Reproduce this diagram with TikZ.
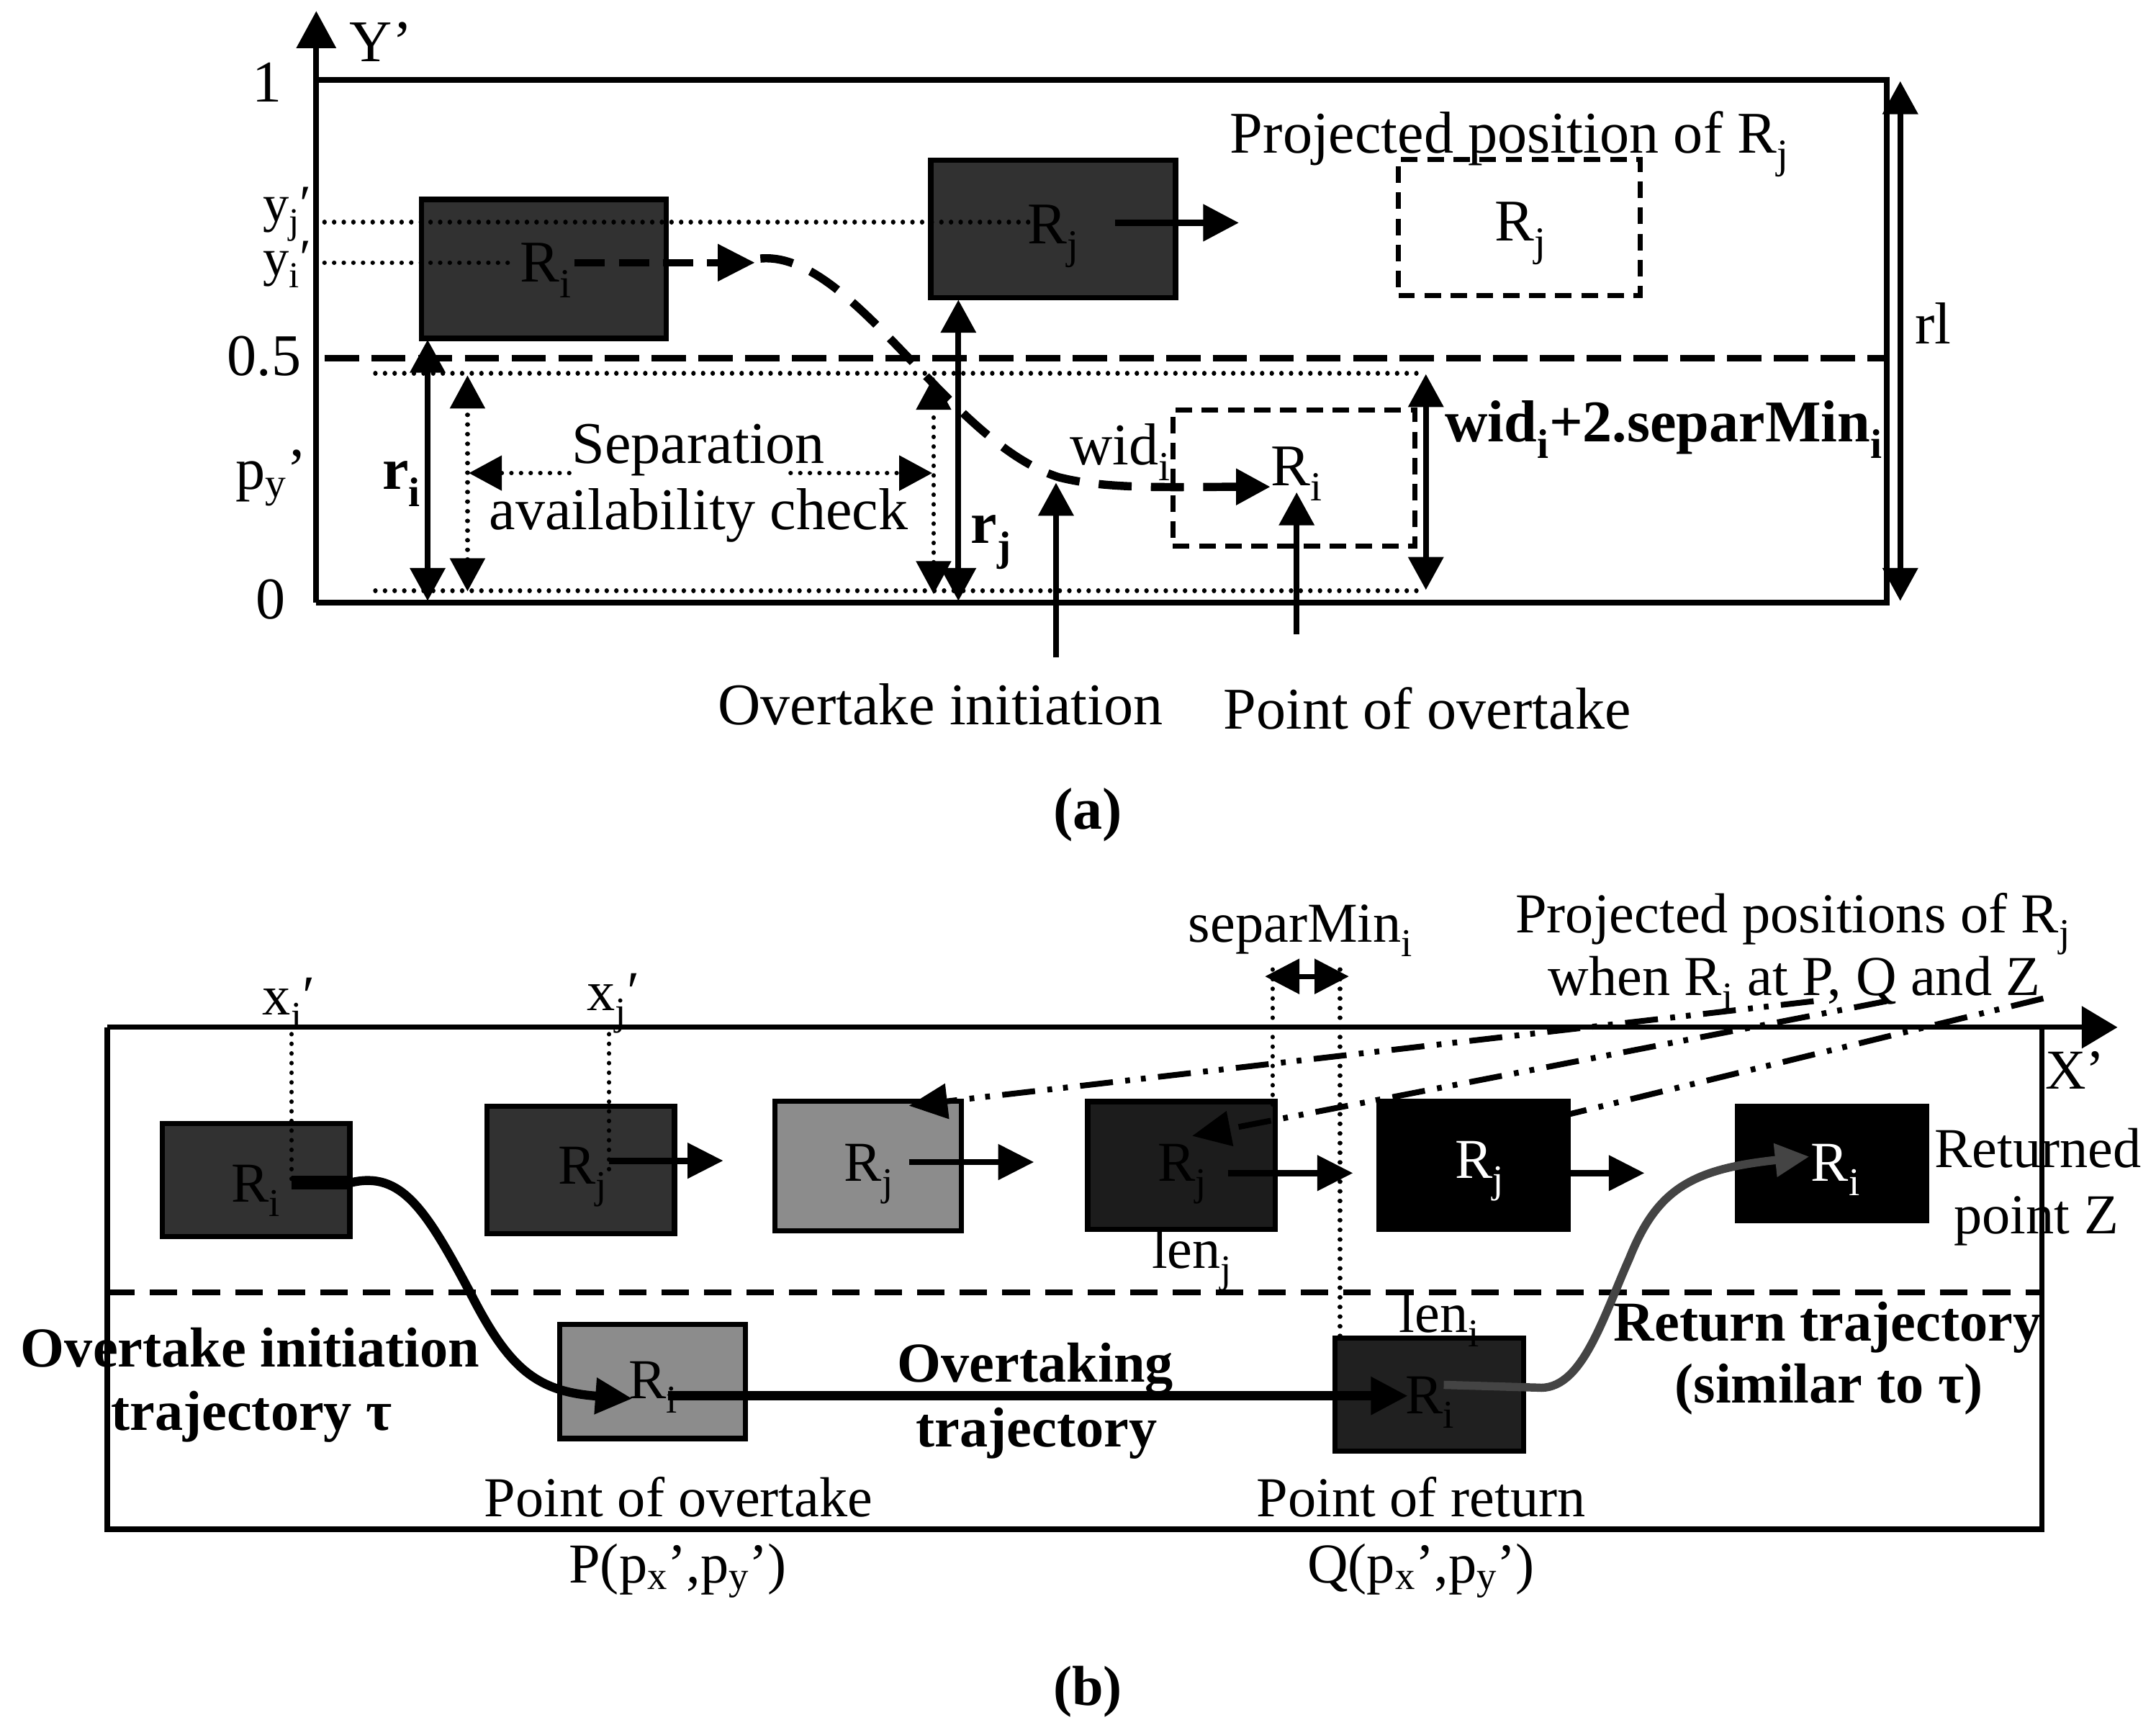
\documentclass[tikz,border=0pt]{standalone}
\usepackage{fontspec}
\setmainfont{Liberation Serif}
\usetikzlibrary{arrows.meta}
\definecolor{boxA}{HTML}{313131}
\definecolor{boxGray}{HTML}{8C8C8C}
\definecolor{boxD}{HTML}{1C1C1C}
\definecolor{boxQ}{HTML}{202020}
\definecolor{retGray}{HTML}{444444}
\newcommand\sbs[1]{\textsubscript{#1}}
\newcommand\fsA{\fontsize{43}{50}\selectfont}
\newcommand\fsY{\fontsize{38}{44}\selectfont}
\newcommand\fsB{\fontsize{41}{48}\selectfont}
\tikzset{
  txt/.style={inner sep=0pt, anchor=base},
  frameA/.style={line width=4.3pt, line join=miter},
  frameB/.style={line width=3.8pt, line join=miter},
  dotl/.style={line width=3.3pt, dash pattern=on 0.01pt off 7pt, line cap=round},
  dashA/.style={line width=4.4pt, dash pattern=on 25pt off 9pt},
  dashB/.style={line width=4.2pt, dash pattern=on 20pt off 11pt},
  darkbox/.style={draw, line width=4pt, fill=boxA, inner sep=0pt},
  dbox/.style={draw, line width=3.6pt, dash pattern=on 12pt off 7pt, inner sep=0pt},
  boxB/.style={draw, line width=3.8pt, inner sep=0pt},
  hdA/.tip={Triangle[width=25pt,length=24pt]},
  hdB/.tip={Triangle[width=25pt,length=26pt]},
  dblA/.style={line width=4.2pt, {hdA}-{hdA}},
  dotdbl/.style={dotl, {hdA}-{hdA}},
  upA/.style={line width=4.2pt, -{hdA}},
  arrB/.style={line width=4.6pt, -{hdB}},
  ddl/.style={line width=4.2pt, dash pattern=on 24pt off 9pt on 3.5pt off 8pt on 3.5pt off 9pt},
}
\begin{document}
\begin{tikzpicture}[x=1pt,y=-1pt]
\useasboundingbox (0,0) rectangle (1568,1260);
% ================= (a) =================
\begin{scope}[font=\fsA]
% boxes
\node[darkbox, minimum width=178pt, minimum height=101pt] (Ri) at (395.5,195.5) {};
\node[darkbox, minimum width=178pt, minimum height=100pt] (Rj) at (766,166.5) {};
\node[dbox, minimum width=176pt, minimum height=99pt] (RjP) at (1105,165.5) {};
\node[dbox, minimum width=176pt, minimum height=99pt] (RiP) at (941,347.5) {};
% frame and axis
\coordinate (ax0) at (230,438);
\coordinate (axT) at (230,8);
\coordinate (fa1) at (230,58);
\coordinate (fa2) at (1372,58);
\coordinate (fa3) at (1372,438);
\draw[frameA] (fa1) -- (fa2) -- (fa3) -- (ax0);
\draw[frameA, -{Triangle[width=28pt,length=27pt]}] (ax0) -- (axT);
% half line
\coordinate (h05a) at (236,260.5);
\coordinate (h05b) at (1372,260.5);
\draw[dashA] (h05a) -- (h05b);
% dotted guides
\coordinate (dyj1) at (236,161.5); \coordinate (dyj2) at (752,161.5);
\coordinate (dyi1) at (236,191); \coordinate (dyi2) at (376,191);
\coordinate (dt1) at (273,271.5); \coordinate (dt2) at (1036,271.5);
\coordinate (db1) at (273,429.5); \coordinate (db2) at (1036,429.5);
\draw[dotl] (dyj1) -- (dyj2);
\draw[dotl] (dyi1) -- (dyi2);
\draw[dotl] (dt1) -- (dt2);
\draw[dotl] (db1) -- (db2);
% axis labels
\node[txt] (lY) at (277,45) {Y’};
\node[txt] (l1) at (194,74) {1};
\node[txt, anchor=base west, font=\fsY] (lyj) at (191,161) {y\sbs{j}′};
\node[txt, anchor=base west, font=\fsY] (lyi) at (191,200) {y\sbs{i}′};
\node[txt] (l05) at (192,273) {0.5};
\node[txt] (lpy) at (197,356) {p\sbs{y}’};
\node[txt] (l0) at (197,450) {0};
% box labels
\node[txt] (RiL) at (397,205) {R\sbs{i}};
\node[txt] (RjL) at (766,177) {R\sbs{j}};
\node[txt] (RjPL) at (1106,175) {R\sbs{j}};
\node[txt] (RiPL) at (943,353) {R\sbs{i}};
% Ri motion and trajectory
\coordinate (riA) at (418,191);
\coordinate (riB) at (549,191);
\draw[line width=5pt, dash pattern=on 22pt off 10pt, -{Triangle[width=26pt,length=27pt]}] (riA) -- (riB);
\coordinate (cvS) at (553,188);
\coordinate (cvE) at (924,354);
\draw[line width=6pt, dash pattern=on 24pt off 14pt, -{Triangle[width=25pt,length=25pt]}]
  (cvS) .. controls (620,182) and (690,322) .. (770,347) .. controls (805,356) and (850,354) .. (cvE);
% Rj motion
\coordinate (rjA) at (811,162);
\coordinate (rjB) at (901,162);
\draw[line width=4.8pt, -{Triangle[width=26pt,length=26pt]}] (rjA) -- (rjB);
% r_i, r_j
\coordinate (ri1) at (311,437); \coordinate (ri2) at (311,247);
\draw[dblA] (ri1) -- (ri2);
\coordinate (rj1) at (697,437); \coordinate (rj2) at (697,218);
\draw[dblA] (rj1) -- (rj2);
\node[txt, font=\fsA\bfseries] (riT) at (292,356) {r\sbs{i}};
\node[txt, font=\fsA\bfseries] (rjT) at (721,395) {r\sbs{j}};
% separation check
\coordinate (sv1a) at (340,273); \coordinate (sv1b) at (340,430);
\coordinate (sv2a) at (679,274); \coordinate (sv2b) at (679,432);
\draw[dotdbl] (sv1b) -- (sv1a);
\draw[dotdbl] (sv2b) -- (sv2a);
\node[txt] (sep1) at (508,337) {Separation};
\node[txt] (sep2) at (508,385) {availability check};
\coordinate (sl1) at (414,344); \coordinate (sl2) at (341,344);
\coordinate (sr1) at (575,344); \coordinate (sr2) at (678,344);
\draw[dotl, -{hdA}] (sl1) -- (sl2);
\draw[dotl, -{hdA}] (sr1) -- (sr2);
% wid
\node[txt] (widT) at (815,338) {wid\sbs{i}};
\coordinate (w1) at (1037,272); \coordinate (w2) at (1037,429);
\draw[dblA] (w1) -- (w2);
\node[txt, font=\fsA\bfseries] (wid2) at (1210,321) {wid\sbs{i}+2.separMin\sbs{i}};
% rl
\coordinate (rl1) at (1382,59); \coordinate (rl2) at (1382,437);
\draw[dblA] (rl1) -- (rl2);
\node[txt] (rlT) at (1406,250) {rl};
% projected
\node[txt] (projA) at (1098,111) {Projected position of R\sbs{j}};
% pointers
\node[txt] (oiT) at (684,527) {Overtake initiation};
\node[txt] (poT) at (1038,530) {Point of overtake};
\coordinate (oi1) at (768,478); \coordinate (oi2) at (768,351);
\coordinate (po1) at (943,461); \coordinate (po2) at (943,358);
\draw[upA] (oi1) -- (oi2);
\draw[upA] (po1) -- (po2);
\node[txt, font=\fsA\bfseries] (capA) at (791,603) {(a)};
\end{scope}
% ================= (b) =================
\begin{scope}[font=\fsB]
\node[boxB, fill=boxA, minimum width=136.5pt, minimum height=82pt] (B1) at (186.25,858) {};
\node[boxB, fill=boxA, minimum width=136.5pt, minimum height=92.5pt] (B2) at (422.25,850.75) {};
\node[boxB, fill=boxGray, minimum width=135.4pt, minimum height=94.2pt] (B3) at (631.3,847.7) {};
\node[boxB, fill=boxD, minimum width=136.5pt, minimum height=93pt] (B4) at (859.25,847.5) {};
\node[boxB, fill=black, minimum width=137.6pt, minimum height=93pt] (B5) at (1071.8,847.5) {};
\node[boxB, fill=black, minimum width=137.3pt, minimum height=83pt] (B6) at (1332.35,845.85) {};
\node[boxB, fill=boxGray, minimum width=135pt, minimum height=83pt] (B7) at (474.5,1004.5) {};
\node[boxB, fill=boxQ, minimum width=137pt, minimum height=82pt] (B8) at (1039.5,1014) {};
% frame and axis
\coordinate (fb1) at (78,747);
\coordinate (fb2) at (1485,747);
\coordinate (fb3) at (1485,1112);
\coordinate (fb4) at (78,1112);
\coordinate (axX) at (1540,747);
\draw[frameB] (fb2) -- (fb3) -- (fb4) -- (fb1);
\draw[frameB, -{Triangle[width=30pt,length=26pt]}] (fb1) -- (axX);
\coordinate (hb1) at (78,939.5);
\coordinate (hb2) at (1485,939.5);
\draw[dashB] (hb1) -- (hb2);
% box labels
\node[txt] (B1L) at (186,874) {R\sbs{i}};
\node[txt] (B2L) at (424,861) {R\sbs{j}};
\node[txt] (B3L) at (632,859) {R\sbs{j}};
\node[txt, text=black] (B4L) at (860,859) {R\sbs{j}};
\node[txt, text=white] (B5L) at (1076,857) {R\sbs{j}};
\node[txt, text=white] (B6L) at (1335,859) {R\sbs{i}};
\node[txt] (B7L) at (475,1017) {R\sbs{i}};
\node[txt, text=black] (B8L) at (1040,1028) {R\sbs{i}};
% x labels and dotted
\node[txt] (xi) at (210,738) {x\sbs{i}′};
\node[txt] (xj) at (446,735) {x\sbs{j}′};
\coordinate (xd1a) at (212,752); \coordinate (xd1b) at (212,861);
\coordinate (xd2a) at (443,752); \coordinate (xd2b) at (443,851);
\draw[dotl] (xd1a) -- (xd1b);
\draw[dotl] (xd2a) -- (xd2b);
% separMin
\node[txt] (smT) at (946,685) {separMin\sbs{i}};
\coordinate (sm1) at (920,710); \coordinate (sm2) at (981,710);
\draw[line width=3.5pt, {Triangle[width=25pt,length=25pt]}-{Triangle[width=25pt,length=25pt]}] (sm1) -- (sm2);
\coordinate (smd1a) at (925.5,705); \coordinate (smd1b) at (925.5,805);
\coordinate (smd2a) at (974.5,705); \coordinate (smd2b) at (974.5,972);
\draw[dotl] (smd1a) -- (smd1b);
\draw[dotl] (smd2a) -- (smd2b);
% Rj motion arrows
\coordinate (a2s) at (443,844); \coordinate (a2e) at (526,844);
\coordinate (a3s) at (661,845); \coordinate (a3e) at (752,845);
\coordinate (a4s) at (893,853); \coordinate (a4e) at (984,853);
\coordinate (a5s) at (1141,853); \coordinate (a5e) at (1196,853);
\draw[arrB] (a2s) -- (a2e);
\draw[arrB] (a3s) -- (a3e);
\draw[arrB] (a4s) -- (a4e);
\draw[arrB] (a5s) -- (a5e);
% trajectories
\coordinate (tauS) at (212,860);
\coordinate (tauM) at (255,860);
\coordinate (tauE) at (460,1017);
\draw[line width=10pt] (tauS) -- (tauM);
\draw[line width=6.5pt, -{Triangle[width=25pt,length=27pt]}]
  (tauM) .. controls (292,851) and (310,880) .. (342,940) .. controls (370,995) and (390,1012) .. (tauE);
\coordinate (ovS) at (486,1015);
\coordinate (ovE) at (1024,1015);
\draw[line width=7pt, -{Triangle[width=26pt,length=27pt]}] (ovS) -- (ovE);
\coordinate (rtS) at (1050,1007);
\coordinate (rtM) at (1118,1009);
\coordinate (rtE) at (1316,841);
\draw[retGray, line width=6pt, -{Triangle[width=23pt,length=25pt]}]
  (rtS) -- (rtM) .. controls (1150,1012) and (1165,960) .. (1185,915) .. controls (1205,865) and (1230,850) .. (rtE);
% projected positions
\node[txt] (pp1) at (1304,678) {Projected positions of R\sbs{j}};
\node[txt] (pp2) at (1305,724) {when R\sbs{i} at P, Q and Z};
\coordinate (dd1s) at (1319,728); \coordinate (dd1e) at (661,804);
\coordinate (dd2s) at (1372,728); \coordinate (dd2e) at (867,826);
\coordinate (dd3s) at (1486,726); \coordinate (dd3e) at (1142,810);
\draw[ddl, -{Triangle[width=25pt,length=28pt]}] (dd1s) -- (dd1e);
\draw[ddl, -{Triangle[width=25pt,length=28pt]}] (dd2s) -- (dd2e);
\draw[ddl] (dd3s) -- (dd3e);
% other labels
\node[txt] (lenj) at (867,922) {len\sbs{j}};
\node[txt] (leni) at (1047,969) {len\sbs{i}};
\node[txt] (lX) at (1509,792) {X’};
\node[txt] (retZ1) at (1482,849) {Returned};
\node[txt] (retZ2) at (1481,897) {point Z};
\node[txt, font=\fsB\bfseries] (oit1) at (182,994) {Overtake initiation};
\node[txt, font=\fsB\bfseries] (oit2) at (183,1040) {trajectory τ};
\node[txt, font=\fsB\bfseries] (ovt1) at (753,1005) {Overtaking};
\node[txt, font=\fsB\bfseries] (ovt2) at (754,1052) {trajectory};
\node[txt, font=\fsB\bfseries] (rtt1) at (1329,975) {Return trajectory};
\node[txt, font=\fsB\bfseries] (rtt2) at (1330,1020) {(similar to τ)};
\node[txt] (pov1) at (493.5,1103) {Point of overtake};
\node[txt] (pov2) at (493,1151) {P(p\sbs{x}’,p\sbs{y}’)};
\node[txt] (prt1) at (1033.5,1103) {Point of return};
\node[txt] (prt2) at (1033.5,1151) {Q(p\sbs{x}’,p\sbs{y}’)};
\node[txt, font=\fsB\bfseries] (capB) at (791,1240) {(b)};
\end{scope}
\end{tikzpicture}
\end{document}
